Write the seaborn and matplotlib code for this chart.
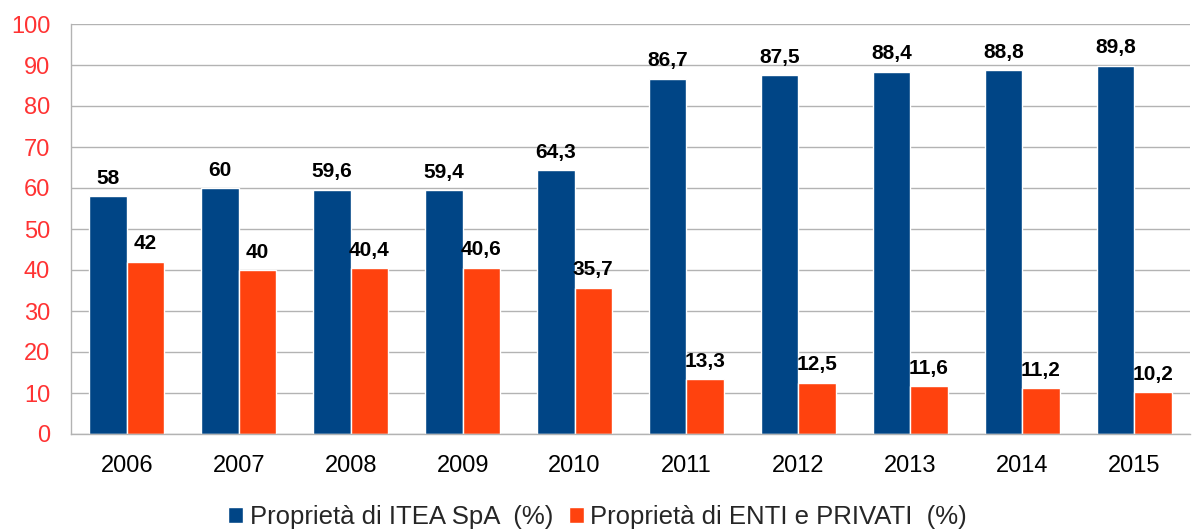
import matplotlib
matplotlib.use("Agg")
import matplotlib.pyplot as plt
import seaborn as sns
import pandas as pd
import numpy as np
from matplotlib.ticker import FixedLocator

years = ["2006", "2007", "2008", "2009", "2010", "2011", "2012", "2013", "2014", "2015"]
itea = [58, 60, 59.6, 59.4, 64.3, 86.7, 87.5, 88.4, 88.8, 89.8]
enti = [42, 40, 40.4, 40.6, 35.7, 13.3, 12.5, 11.6, 11.2, 10.2]
series_names = ["Proprietà di ITEA SpA  (%)", "Proprietà di ENTI e PRIVATI  (%)"]
colors = ["#004586", "#FF420E"]

df = pd.DataFrame({
    "year": years * 2,
    "value": itea + enti,
    "series": [series_names[0]] * len(years) + [series_names[1]] * len(years),
})

sns.set_style("white")
plt.rcParams["font.family"] = ["Liberation Sans", "DejaVu Sans"]

fig = plt.figure(figsize=(11.95, 5.31), dpi=100)
ax = fig.add_axes([71 / 1195, 1 - 434 / 531, (1190 - 71) / 1195, (434 - 24) / 531])

sns.barplot(data=df, x="year", y="value", hue="series", palette=colors,
            width=0.67, saturation=1, ax=ax, legend=True)

for cont in ax.containers:
    labels = [("%g" % v).replace(".", ",") for v in cont.datavalues]
    ax.bar_label(cont, labels=labels, padding=6, fontsize=15, fontweight="bold", color="black")

ax.set_ylim(0, 100)
ax.set_xlim(-0.5, len(years) - 0.5)
ax.set_yticks(np.arange(0, 101, 10))
ax.yaxis.grid(True, color="#b3b3b3", linewidth=1)
ax.set_axisbelow(True)
ax.set_xlabel("")
ax.set_ylabel("")

for s in ["top", "right"]:
    ax.spines[s].set_visible(False)
for s in ["left", "bottom"]:
    ax.spines[s].set_color("#b3b3b3")
    ax.spines[s].set_linewidth(1)

ax.tick_params(axis="y", which="major", length=11, color="#b3b3b3", labelsize=17,
               labelcolor="#FF3333", pad=4)
ax.tick_params(axis="x", which="major", length=0, labelsize=17, labelcolor="black", pad=15)
ax.xaxis.set_minor_locator(FixedLocator(np.arange(-0.5, len(years), 1.0)))
ax.tick_params(axis="x", which="minor", length=10, color="#b3b3b3", width=1)

handles, labs = ax.get_legend_handles_labels()
ax.legend(handles, labs, loc="center", bbox_to_anchor=(0.5, 1 - 517 / 531), bbox_transform=fig.transFigure,
          ncol=2, frameon=False, fontsize=18.5, handlelength=0.6, handleheight=0.6,
          handletextpad=0.25, columnspacing=0.6, borderpad=0)

fig.savefig("out.png", dpi=100)
